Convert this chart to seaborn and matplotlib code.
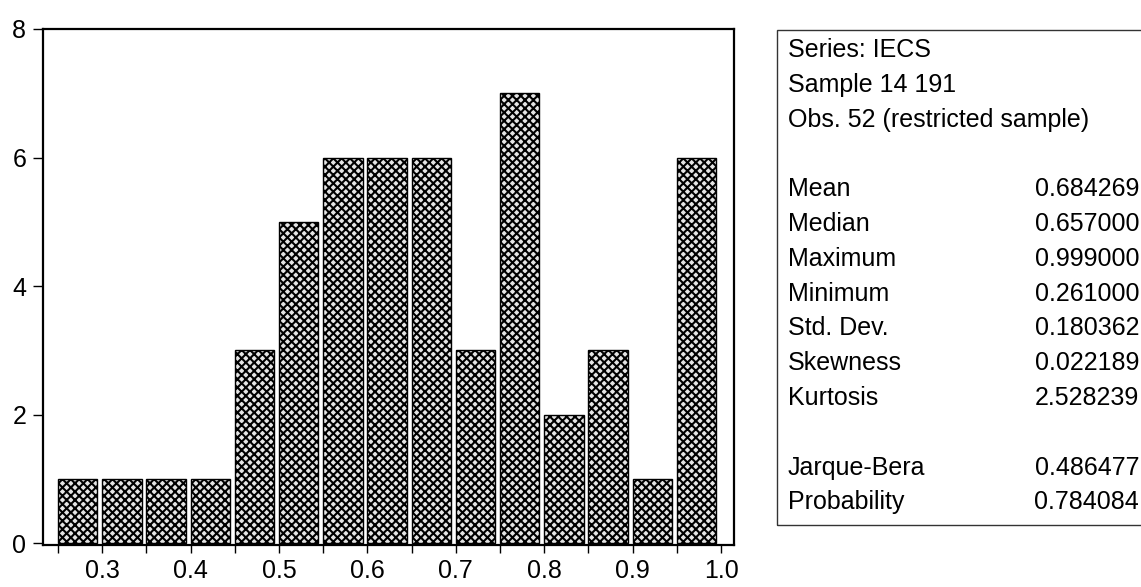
import matplotlib
matplotlib.use("Agg")
import matplotlib.pyplot as plt
from matplotlib.patches import Rectangle
import numpy as np
import pandas as pd
import seaborn as sns

# Histogram of IECS: bin edges and counts per bin
bin_edges = [0.25, 0.30, 0.35, 0.40, 0.45, 0.50, 0.55, 0.60,
             0.65, 0.70, 0.75, 0.80, 0.85, 0.90, 0.95, 1.00]
counts = [1, 1, 1, 1, 3, 5, 6, 6, 6, 3, 7, 2, 3, 1, 6]

x_tick_values = [0.3, 0.4, 0.5, 0.6, 0.7, 0.8, 0.9, 1.0]
x_tick_labels = ["0.3", "0.4", "0.5", "0.6", "0.7", "0.8", "0.9", "1.0"]
y_tick_values = [0, 2, 4, 6, 8]

# Descriptive statistics panel
header_lines = ["Series: IECS", "Sample 14 191", "Obs. 52 (restricted sample)"]
stat_names = ["Mean", "Median", "Maximum", "Minimum", "Std. Dev.", "Skewness", "Kurtosis"]
stat_values = ["0.684269", "0.657000", "0.999000", "0.261000", "0.180362", "0.022189", "2.528239"]
test_names = ["Jarque-Bera", "Probability"]
test_values = ["0.486477", "0.784084"]

sns.set_theme(style="ticks")
plt.rcParams["font.family"] = ["Liberation Sans", "DejaVu Sans"]
plt.rcParams["hatch.linewidth"] = 1.5
plt.rcParams["hatch.color"] = "black"

W, H = 1141, 587
fig = plt.figure(figsize=(W / 100, H / 100), dpi=100)
fig.patch.set_facecolor("white")

left, right, top, bottom = 43, 734, 29, 545
ax = fig.add_axes([left / W, 1 - bottom / H, (right - left) / W, (bottom - top) / H])
ax.set_facecolor("white")

edges = np.array(bin_edges)
df = pd.DataFrame({"value": (edges[:-1] + edges[1:]) / 2, "count": counts})
shrink = 0.89
sns.histplot(data=df, x="value", weights="count", bins=bin_edges, shrink=shrink,
             color="#e4e4e4", alpha=1, edgecolor="black", linewidth=1.0,
             hatch="xxxx", ax=ax)

# align each bar with the left edge of its bin
bin_w = edges[1] - edges[0]
for p in ax.patches:
    p.set_x(p.get_x() - bin_w * (1 - shrink) / 2)
    p.set_hatch("xxxx")

ax.set_xlim(0.233, 1.0147)
ax.set_ylim(-0.03, 8)
ax.set_xticks(x_tick_values)
ax.set_xticklabels(x_tick_labels)
ax.set_xticks([e for e in bin_edges if round(e * 20) % 2 == 1], minor=True)
ax.set_yticks(y_tick_values)
ax.set_xlabel("")
ax.set_ylabel("")

for s in ax.spines.values():
    s.set_visible(True)
    s.set_color("black")
    s.set_linewidth(1.6)

fs = 18
ax.tick_params(axis="x", which="both", direction="out", length=6, width=1.0,
               color="black", labelsize=fs, pad=4, labelcolor="black")
ax.tick_params(axis="y", which="both", direction="out", length=7, width=1.0,
               color="black", labelsize=fs, pad=5, labelcolor="black")

# statistics box
fig.patches.append(Rectangle((777 / W, 1 - 525 / H), 420 / W, (525 - 30) / H,
                             transform=fig.transFigure, fill=False,
                             edgecolor="#333333", linewidth=1.0))

row_h = 34.8
y0 = 50
text_x = 788 / W
value_x = 1139 / W
rows = header_lines + [""] + list(zip(stat_names, stat_values)) + [""] + list(zip(test_names, test_values))
for i, row in enumerate(rows):
    y = 1 - (y0 + row_h * i) / H
    if isinstance(row, tuple):
        fig.text(text_x, y, row[0], ha="left", va="center", fontsize=fs, color="black")
        fig.text(value_x, y, row[1], ha="right", va="center", fontsize=fs, color="black")
    elif row:
        fig.text(text_x, y, row, ha="left", va="center", fontsize=fs, color="black")

fig.savefig("out.png", dpi=100)
